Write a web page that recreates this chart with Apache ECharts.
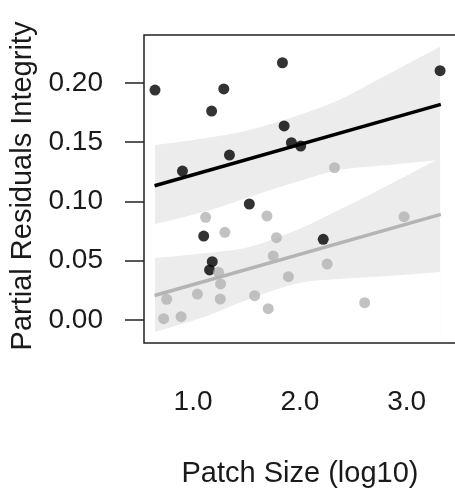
<!DOCTYPE html>
<html>
<head>
<meta charset="utf-8">
<script src="https://cdn.jsdelivr.net/npm/echarts@6/dist/echarts.min.js"></script>
<style>html,body{margin:0;padding:0;background:#fff;}#c{width:455px;height:490px;}</style>
</head>
<body>
<div id="c"></div>
<script>
// ---- data ----
const xTicks = [1.0, 1.5, 2.0, 2.5, 3.0];
const xTickLabels = [1.0, 2.0, 3.0];
const yTicks = [0.00, 0.05, 0.10, 0.15, 0.20];

const blackX = [0.644, 1.288, 1.174, 1.837, 1.853, 1.921, 1.341, 0.901, 3.313, 2.008, 1.527, 1.100, 1.180, 1.155, 2.219];
const blackY = [0.1939, 0.1948, 0.1762, 0.2169, 0.1636, 0.1495, 0.1391, 0.1256, 0.2102, 0.1467, 0.0978, 0.0708, 0.0492, 0.0422, 0.0680];

const grayX = [1.118, 1.692, 1.298, 1.781, 1.751, 1.239, 1.258, 1.893, 2.256, 2.976, 2.325, 0.753, 1.041, 1.255, 1.577, 1.704, 2.607, 0.725, 0.888];
const grayY = [0.0866, 0.0877, 0.0739, 0.0694, 0.0540, 0.0402, 0.0304, 0.0365, 0.0472, 0.0871, 0.1284, 0.0175, 0.0219, 0.0177, 0.0205, 0.0095, 0.0146, 0.0011, 0.0028];

const fitX = [0.64, 3.32];
const blackFit = [0.1132, 0.1818];
const grayFit = [0.0207, 0.0890];

const bandX = [0.644, 1.128, 1.527, 1.993, 2.365, 2.830, 3.313];
const blackUpper = [0.1476, 0.1535, 0.1602, 0.1728, 0.1855, 0.2074, 0.2304];
const blackLower = [0.0809, 0.0919, 0.1037, 0.1172, 0.1265, 0.1307, 0.1349];
const grayUpper = [0.0523, 0.0565, 0.0616, 0.0767, 0.0927, 0.1138, 0.1366];
const grayLower = [-0.0101, 0.0034, 0.0177, 0.0312, 0.0346, 0.0371, 0.0405];

// ---- chart ----
const FONT = '"Liberation Sans", Arial, sans-serif';
const BAND = '#ececec';
const chart = echarts.init(document.getElementById('c'), null, {renderer: 'canvas'});

// band = filled area under the upper bound, then white area under the lower bound
function edge(vals, fill) {
  return {type: 'line', z: 1, silent: true, symbol: 'none', smooth: 0.35,
    lineStyle: {width: 0, opacity: 0},
    areaStyle: {color: fill, opacity: 1, origin: 'start'},
    data: bandX.map((x, i) => [x, vals[i]])};
}

const option = {
  animation: false,
  backgroundColor: '#fff',
  grid: {left: 144, top: 35, width: 313, height: 308, show: false},
  xAxis: {
    type: 'value', min: 0.541, max: 0.541 + 313 / 107.5,
    axisLine: {show: false},
    splitLine: {show: false},
    axisTick: {show: true, customValues: xTicks, length: 19, lineStyle: {color: '#222', width: 1.5}},
    axisLabel: {customValues: xTickLabels, margin: 45, fontSize: 28, color: '#1a1a1a', fontFamily: FONT,
      formatter: v => Number(v).toFixed(1)}
  },
  yAxis: {
    type: 'value', min: -0.0194, max: -0.0194 + 308 / 1186,
    axisLine: {show: false},
    splitLine: {show: false},
    axisTick: {show: true, customValues: yTicks, length: 19, lineStyle: {color: '#222', width: 1.5}},
    axisLabel: {customValues: yTicks, margin: 41, fontSize: 28, color: '#1a1a1a', fontFamily: FONT,
      formatter: v => Number(v).toFixed(2)}
  },
  graphic: [
    {type: 'rect', z: 100, silent: true,
      shape: {x: 144, y: 35, width: 313, height: 308},
      style: {fill: null, stroke: '#222', lineWidth: 1.5}},
    {type: 'text', x: 300, y: 474, z: 10,
      style: {text: 'Patch Size (log10)', fontSize: 29, fontFamily: FONT, fill: '#1a1a1a', textAlign: 'center', textVerticalAlign: 'middle'}},
    {type: 'text', x: 23, y: 186, rotation: Math.PI / 2, z: 10,
      style: {text: 'Partial Residuals Integrity', fontSize: 29, fontFamily: FONT, fill: '#1a1a1a', textAlign: 'center', textVerticalAlign: 'middle'}}
  ],
  series: [
    edge(blackUpper, BAND),
    edge(blackLower, '#ffffff'),
    edge(grayUpper, BAND),
    edge(grayLower, '#ffffff'),
    {type: 'line', z: 3, symbol: 'none', silent: true,
      data: fitX.map((x, i) => [x, grayFit[i]]),
      lineStyle: {color: '#b4b4b4', width: 3.5}},
    {type: 'line', z: 3, symbol: 'none', silent: true,
      data: fitX.map((x, i) => [x, blackFit[i]]),
      lineStyle: {color: '#000', width: 3.5}},
    {type: 'scatter', z: 4, symbolSize: 11, silent: true,
      data: blackX.map((x, i) => [x, blackY[i]]),
      itemStyle: {color: '#000'}},
    {type: 'scatter', z: 5, symbolSize: 11, silent: true,
      data: grayX.map((x, i) => [x, grayY[i]]),
      itemStyle: {color: '#b3b3b3'}}
  ]
};
chart.setOption(option);
</script>
</body>
</html>
